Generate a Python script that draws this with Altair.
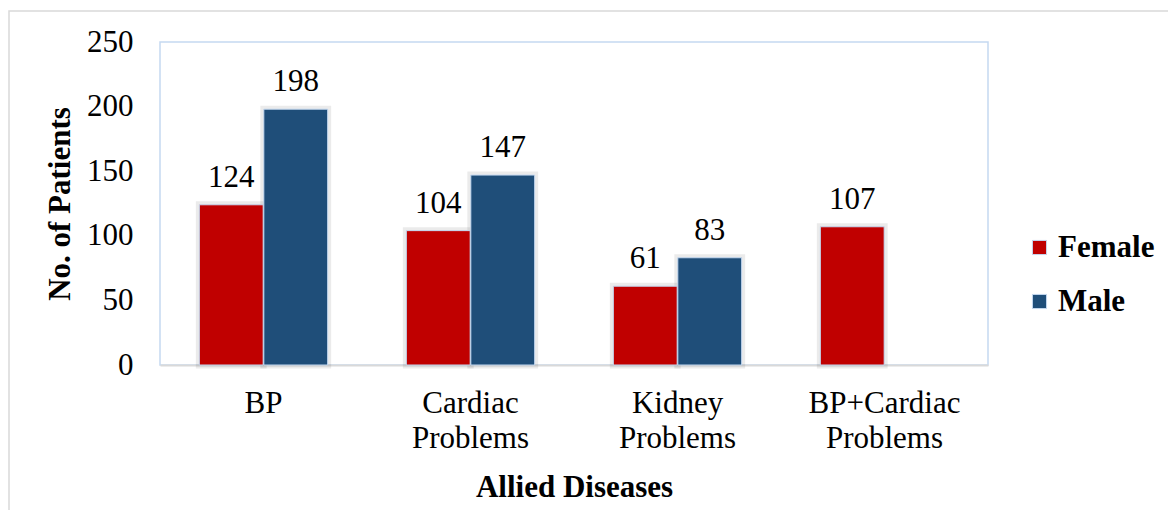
import altair as alt
import pandas as pd

categories = ["BP", "Cardiac\nProblems", "Kidney\nProblems", "BP+Cardiac\nProblems"]
female = [124, 104, 61, 107]
male = [198, 147, 83, None]

rows = []
for c, f, m in zip(categories, female, male):
    rows.append({"Disease": c, "Gender": "Female", "Patients": f})
    if m is not None:
        rows.append({"Disease": c, "Gender": "Male", "Patients": m})
df = pd.DataFrame(rows)

FONT = "Liberation Serif"
FS = 31
colors = ["#C00000", "#1F4E79"]

x = alt.X("Disease:N", sort=categories,
          scale=alt.Scale(paddingInner=0.38, paddingOuter=0.19),
          axis=alt.Axis(title="Allied Diseases", labelAngle=0, labelAlign="center",
                        labelExpr="split(datum.label, '\\n')",
                        labelFontSize=FS, labelFont=FONT, labelColor="#000",
                        labelLineHeight=35, labelPadding=23, labelBaseline="top",
                        titleFontSize=FS, titleFont=FONT, titleFontWeight="bold",
                        titleColor="#000", titlePadding=19,
                        ticks=False, domainColor="#d9d9d9", domainWidth=2))
xo = alt.XOffset("Gender:N", scale=alt.Scale(domain=["Female", "Male"], paddingInner=0.01))
y = alt.Y("Patients:Q", scale=alt.Scale(domain=[0, 250]),
          axis=alt.Axis(title="No. of  Patients", values=[0, 50, 100, 150, 200, 250],
                        grid=False, ticks=False, domain=False,
                        labelFontSize=FS, labelFont=FONT, labelColor="#000", labelPadding=27,
                        titleFontSize=FS, titleFont=FONT, titleFontWeight="bold",
                        titleColor="#000", titlePadding=10))

color = alt.Color("Gender:N", scale=alt.Scale(domain=["Female", "Male"], range=colors),
                  legend=alt.Legend(title=None, orient="none", legendX=864, legendY=190,
                                    symbolType="square", symbolSize=200, symbolStrokeColor="#c5d9f1",
                                    symbolStrokeWidth=1,
                                    labelFontSize=FS, labelFont=FONT, labelFontWeight="bold",
                                    labelColor="#000", rowPadding=22, labelOffset=3))

border = alt.Chart(pd.DataFrame({"a": [0]})).mark_rect(
    fill=None, stroke="#d9d9d9", strokeWidth=1.5
).encode(x=alt.value(-151), x2=alt.value(1015), y=alt.value(-31), y2=alt.value(520))

shadow = alt.Chart(df).mark_bar(
    fill="#000", fillOpacity=0.0, stroke="#000", strokeOpacity=0.08, strokeWidth=7
).encode(x=x, xOffset=xo, y=y)

bars = alt.Chart(df).mark_bar(stroke="#c5d9f1", strokeWidth=1).encode(
    x=x, xOffset=xo, y=y, color=color)

labels = alt.Chart(df).mark_text(
    baseline="alphabetic", dy=-18, fontSize=FS, font=FONT, color="#000"
).encode(x=x, xOffset=xo, y=y, text="Patients:Q")

chart = alt.layer(border, shadow, bars, labels).properties(
    width=828, height=323,
    autosize=alt.AutoSizeParams(type="none"),
    padding={"left": 152, "top": 34, "right": 180, "bottom": 145},
).configure_view(stroke="#c5d9f1", strokeWidth=1.5)

chart.save("out.html", embed_options={"renderer": "svg", "actions": False})
